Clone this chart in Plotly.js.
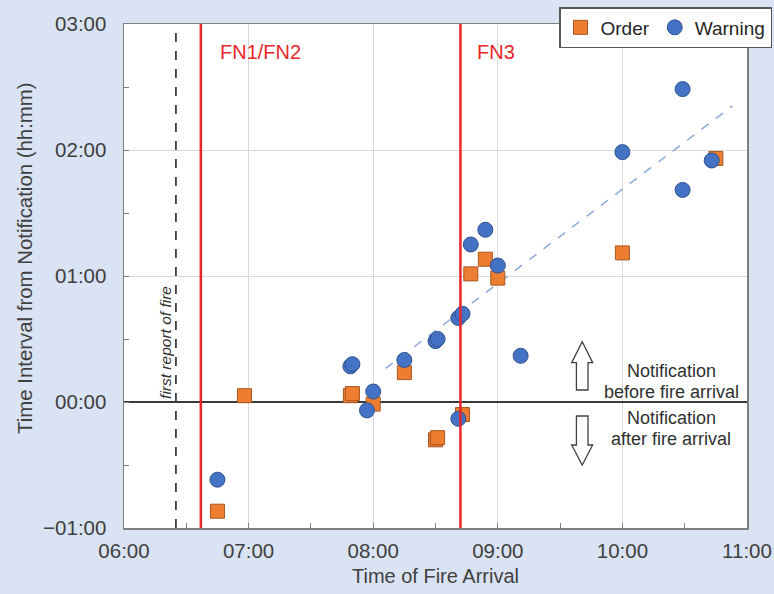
<!DOCTYPE html>
<html>
<head>
<meta charset="utf-8">
<script src="https://cdn.plot.ly/plotly-3.0.1.min.js"></script>
<style>
  html, body { margin: 0; padding: 0; background: #dae3f3; }
  #chart { width: 774px; height: 594px; }
</style>
</head>
<body>
<div id="chart"></div>
<script>
// ---------- data ----------
// time of fire arrival (hh:mm) and interval from notification (minutes, + = before arrival)
const orderTimes    = ['06:45','06:58','07:49','07:50','08:00','08:15','08:30','08:31','08:43','08:47','08:54','09:00','10:00','10:45'];
const orderMinutes  = [-52, 3, 3, 4, -1, 14, -18, -17, -6, 61, 68, 59, 71, 116];

const warningTimes   = ['06:45','07:49','07:50','07:57','08:00','08:15','08:30','08:31','08:41','08:41','08:43','08:47','08:54','09:00','09:11','10:00','10:29','10:29','10:43'];
const warningMinutes = [-37, 17, 18, -4, 5, 20, 29, 30, -8, 40, 42, 75, 82, 65, 22, 119, 149, 101, 115];

// dashed trend line end points
const trendTimes   = ['08:06','10:53'];
const trendMinutes = [16, 141];

// reference events
const firstReportTime = '06:25';
const fn12Time = '06:37';
const fn3Time  = '08:42';

// tick labels
const xTickLabels = ['06:00','07:00','08:00','09:00','10:00','11:00'];
const yTickLabels = ['\u221201:00','00:00','01:00','02:00','03:00'];

// ---------- helpers ----------
function toMin(s) {
  const neg = s[0] === '-' || s[0] === '\u2212';
  const t = neg ? s.slice(1) : s;
  const [h, m] = t.split(':').map(Number);
  const v = h * 60 + m;
  return neg ? -v : v;
}
const xTickVals = xTickLabels.map(toMin);
const yTickVals = yTickLabels.map(toMin);
const xMinor = xTickVals.slice(0, -1).map(v => v + 30);
const yMinor = yTickVals.slice(0, -1).map(v => v + 30);

// plot-area geometry in pixels (for decorative arrows / label placement)
const M = { l: 124, r: 27, t: 24, b: 66, autoexpand: false };
const W = 774, H = 594;
const PW = W - M.l - M.r, PH = H - M.t - M.b;
const px = x => (x - M.l) / PW;
const py = y => (H - M.b - y) / PH;
function arrow(cx, tip, base, end, hh, hs) {
  const pts = [[cx, tip], [cx + hh, base], [cx + hs, base], [cx + hs, end],
               [cx - hs, end], [cx - hs, base], [cx - hh, base]];
  return 'M' + pts.map(p => px(p[0]).toFixed(4) + ',' + py(p[1]).toFixed(4)).join(' L') + ' Z';
}

const RED = '#e8262b';
const TXT = '#404040';
const FONT = 'Liberation Sans, Arial, sans-serif';

const traces = [
  {
    x: trendTimes.map(toMin), y: trendMinutes, mode: 'lines', showlegend: false,
    line: { color: '#8eaadb', width: 1.5, dash: 'dash' }, hoverinfo: 'skip'
  },
  {
    name: 'Order', x: orderTimes.map(toMin), y: orderMinutes, mode: 'markers', type: 'scatter',
    marker: { symbol: 'square', size: 14, color: '#ed7d31', line: { color: '#a9561f', width: 1 } }
  },
  {
    name: 'Warning', x: warningTimes.map(toMin), y: warningMinutes, mode: 'markers', type: 'scatter',
    marker: { symbol: 'circle', size: 15, color: '#4472c4', line: { color: '#2f528f', width: 1 } }
  }
];

const vline = (t, color, width, dash) => ({
  type: 'line', xref: 'x', yref: 'paper', x0: toMin(t), x1: toMin(t), y0: 0, y1: 1,
  line: { color, width, dash }, layer: 'above'
});

const layout = {
  width: W, height: H,
  margin: M,
  paper_bgcolor: '#dae3f3',
  plot_bgcolor: '#ffffff',
  font: { family: FONT, color: TXT, size: 20 },
  showlegend: true,
  legend: {
    orientation: 'h', x: px(772), y: py(7), xanchor: 'right', yanchor: 'top',
    bgcolor: '#ffffff', bordercolor: '#595959', borderwidth: 1.5,
    font: { size: 19, color: '#262626' }, itemwidth: 30, tracegroupgap: 0
  },
  xaxis: {
    range: [xTickVals[0], xTickVals[xTickVals.length - 1]],
    tickmode: 'array', tickvals: xTickVals, ticktext: xTickLabels,
    showgrid: true, gridcolor: '#d9d9d9', gridwidth: 1,
    showline: true, linecolor: '#808080', linewidth: 1.5, mirror: true,
    ticks: 'inside', ticklen: 5, tickcolor: '#808080',
    minor: { tickmode: 'array', tickvals: xMinor, ticks: 'inside', ticklen: 5, tickcolor: '#808080', showgrid: false },
    zeroline: false, fixedrange: true,
    tickfont: { size: 20.5, color: TXT },
    ticklabelstandoff: 4,
    title: { text: 'Time of Fire Arrival', font: { size: 20, color: TXT }, standoff: 8 }
  },
  yaxis: {
    range: [yTickVals[0], yTickVals[yTickVals.length - 1]],
    tickmode: 'array', tickvals: yTickVals, ticktext: yTickLabels,
    showgrid: true, gridcolor: '#d9d9d9', gridwidth: 1,
    showline: true, linecolor: '#808080', linewidth: 1.5, mirror: true,
    ticks: 'inside', ticklen: 5, tickcolor: '#808080',
    minor: { tickmode: 'array', tickvals: yMinor, ticks: 'inside', ticklen: 5, tickcolor: '#808080', showgrid: false },
    zeroline: true, zerolinecolor: '#3a3a3a', zerolinewidth: 1.5, fixedrange: true,
    tickfont: { size: 20.5, color: TXT },
    ticklabelstandoff: 12
  },
  shapes: [
    vline(firstReportTime, '#404040', 1.8, 'dash'),
    vline(fn12Time, RED, 2.5, 'solid'),
    vline(fn3Time, RED, 2.5, 'solid'),
    { type: 'path', xref: 'paper', yref: 'paper', path: arrow(582.2, 341.7, 362.7, 390, 10.5, 5.8),
      line: { color: '#404040', width: 1.3 }, fillcolor: '#ffffff', layer: 'above' },
    { type: 'path', xref: 'paper', yref: 'paper', path: arrow(582.2, 465, 445, 416, 10.5, 5.8),
      line: { color: '#404040', width: 1.3 }, fillcolor: '#ffffff', layer: 'above' }
  ],
  annotations: [
    { text: 'Time Interval from Notification (hh:mm)', xref: 'paper', yref: 'paper', x: px(25), y: py(258),
      xanchor: 'center', yanchor: 'middle', textangle: -90, showarrow: false, font: { size: 20.4, color: TXT } },
    { text: 'FN1/FN2', xref: 'x', yref: 'paper', x: toMin(fn12Time), y: py(52), xanchor: 'left', yanchor: 'middle',
      xshift: 17, showarrow: false, font: { size: 20, color: RED } },
    { text: 'FN3', xref: 'x', yref: 'paper', x: toMin(fn3Time), y: py(52), xanchor: 'left', yanchor: 'middle',
      xshift: 15, showarrow: false, font: { size: 20, color: RED } },
    { text: '<i>first report of fire</i>', xref: 'x', yref: 'paper', x: toMin(firstReportTime), y: py(342),
      xanchor: 'center', yanchor: 'middle', xshift: -11, textangle: -90, showarrow: false, font: { size: 15.5, color: '#303030' } },
    { text: 'Notification', xref: 'paper', yref: 'paper', x: px(671), y: py(371), xanchor: 'center', yanchor: 'middle', showarrow: false, font: { size: 18, color: '#303030' } },
    { text: 'before fire arrival', xref: 'paper', yref: 'paper', x: px(671), y: py(392), xanchor: 'center', yanchor: 'middle', showarrow: false, font: { size: 18, color: '#303030' } },
    { text: 'Notification', xref: 'paper', yref: 'paper', x: px(671), y: py(418), xanchor: 'center', yanchor: 'middle', showarrow: false, font: { size: 18, color: '#303030' } },
    { text: 'after fire arrival', xref: 'paper', yref: 'paper', x: px(671), y: py(439), xanchor: 'center', yanchor: 'middle', showarrow: false, font: { size: 18, color: '#303030' } }
  ],
  hovermode: false
};

Plotly.newPlot('chart', traces, layout, { displayModeBar: false, staticPlot: true });
</script>
</body>
</html>
